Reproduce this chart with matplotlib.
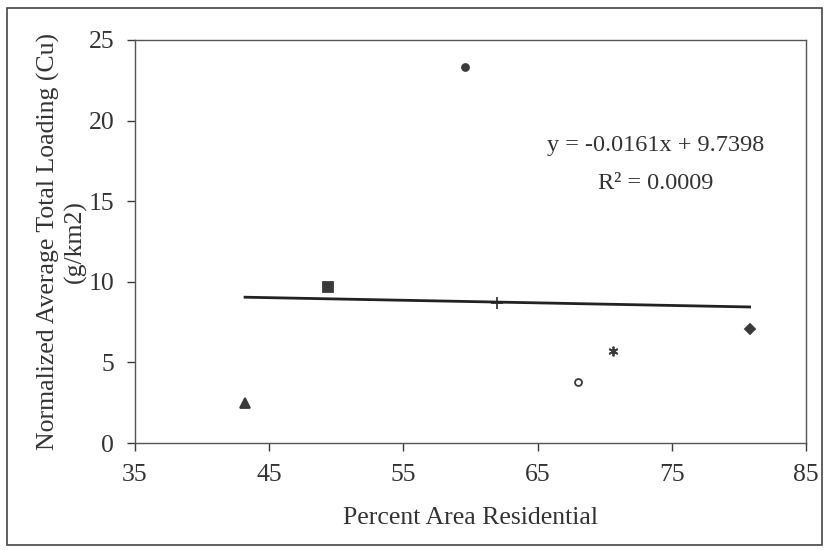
import matplotlib.pyplot as plt
import matplotlib.patches as patches

# data
pct_residential = [43.2, 49.4, 59.6, 62.0, 68.0, 70.6, 80.8]
loading = [2.5, 9.65, 23.35, 8.7, 3.8, 5.7, 7.1]
markers = ['^', 's', 'o', '+', 'o', (6, 2, 0), 'D']
fills = [True, True, True, True, False, True, True]
sizes = [7, 7, 5, 8, 5, 7, 5]

slope = -0.0161
intercept = 9.7398
r2 = 0.0009

xticks = [35, 45, 55, 65, 75, 85]
yticks = [0, 5, 10, 15, 20, 25]

plt.rcParams['font.family'] = ['Liberation Serif', 'DejaVu Serif']
ink = '#3a3a3a'

fig = plt.figure(figsize=(8.27, 5.5), dpi=100)
ax = fig.add_axes([135 / 827, 107 / 550, 671 / 827, 403 / 550])

for x, y, m, f, s in zip(pct_residential, loading, markers, fills, sizes):
    ax.plot(x, y, marker=m, ms=s, color=ink, mec=ink,
            mfc=ink if f else 'white', mew=1.3, linestyle='none')

x0, x1 = min(pct_residential), max(pct_residential)
ax.plot([x0, x1], [slope * x0 + intercept, slope * x1 + intercept],
        color='#222222', lw=2)

# equation text placed in figure pixels (from the top of the picture)
ax.text(656 / 827, 1 - 146 / 550, 'y = %.4fx + %.4f' % (slope, intercept),
        transform=fig.transFigure, fontsize=17.5, color='#333333',
        ha='center', va='center')
ax.text(656 / 827, 1 - 184 / 550, 'R² = %.4f' % r2,
        transform=fig.transFigure, fontsize=17.5, color='#333333',
        ha='center', va='center')

ax.set_xlim(35, 85)
ax.set_ylim(0, 25)
ax.set_xticks(xticks)
ax.set_yticks(yticks)
ax.tick_params(direction='out', length=6, width=1, colors=ink,
               labelsize=18.5, labelcolor='#333333', pad=9)
for sp in ax.spines.values():
    sp.set_color('#555555')
    sp.set_linewidth(1)

ax.set_xlabel('Percent Area Residential', fontsize=18.5, color='#333333',
              labelpad=15)
ax.set_ylabel('Normalized Average Total Loading (Cu)\n(g/km2)',
              fontsize=18.5, color='#333333', labelpad=1, linespacing=1.25)

fig.patches.append(patches.Rectangle((7 / 827, 5 / 550), 815 / 827, 537 / 550,
                                     transform=fig.transFigure, fill=False,
                                     edgecolor='#444444', lw=1.2))

fig.savefig('out.png', dpi=100)
